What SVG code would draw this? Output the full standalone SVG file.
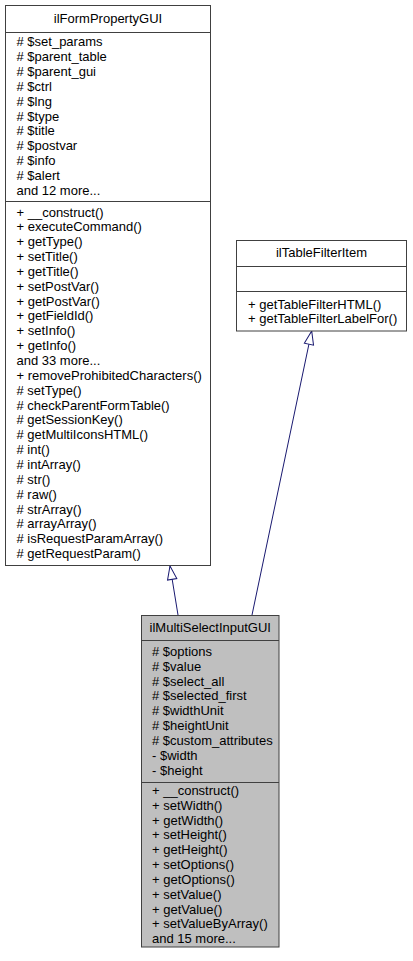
<svg xmlns="http://www.w3.org/2000/svg" width="413" height="961" viewBox="0 0 413 961">
<style>
text{font-family:"Liberation Sans",Arial,Helvetica,sans-serif;font-size:13px;fill:#000}
.c{text-anchor:middle}
.box{fill:#fff;stroke:#404040;stroke-width:1}
.focus{fill:#bfbfbf;stroke:#404040;stroke-width:1}
.sep{stroke:#404040;stroke-width:1}
.edge{fill:none;stroke:#191970;stroke-width:1}
</style>
<defs>
<marker id="inh" markerUnits="userSpaceOnUse" viewBox="0 0 15 11" markerWidth="15" markerHeight="11" refX="14" refY="5.5" orient="auto" overflow="visible">
<path d="M0.5,0.8 L14,5.5 L0.5,10.2 Z" fill="#fff" stroke="#191970" stroke-width="1"/>
</marker>
</defs>
<rect width="413" height="961" fill="#fff"/>
<g id="connectors">
<path class="edge" d="M178,615 L170,566" marker-end="url(#inh)"/>
<path class="edge" d="M252,615 L311.7,331" marker-end="url(#inh)"/>
</g>
<g id="ilFormPropertyGUI">
<rect class="box" x="5.5" y="5.5" width="205" height="560"/>
<line class="sep" x1="5.5" y1="32.5" x2="210.5" y2="32.5"/>
<line class="sep" x1="5.5" y1="201.5" x2="210.5" y2="201.5"/>
<text class="c" x="108" y="22.5">ilFormPropertyGUI</text>
<text x="16.5" y="46.3"># $set_params</text>
<text x="16.5" y="61.15"># $parent_table</text>
<text x="16.5" y="76"># $parent_gui</text>
<text x="16.5" y="90.85"># $ctrl</text>
<text x="16.5" y="105.7"># $lng</text>
<text x="16.5" y="120.55"># $type</text>
<text x="16.5" y="135.4"># $title</text>
<text x="16.5" y="150.25"># $postvar</text>
<text x="16.5" y="165.1"># $info</text>
<text x="16.5" y="179.95"># $alert</text>
<text x="16.5" y="194.8">and 12 more...</text>
<text x="16.5" y="216.5">+ __construct()</text>
<text x="16.5" y="231.35">+ executeCommand()</text>
<text x="16.5" y="246.2">+ getType()</text>
<text x="16.5" y="261.05">+ setTitle()</text>
<text x="16.5" y="275.9">+ getTitle()</text>
<text x="16.5" y="290.75">+ setPostVar()</text>
<text x="16.5" y="305.6">+ getPostVar()</text>
<text x="16.5" y="320.45">+ getFieldId()</text>
<text x="16.5" y="335.3">+ setInfo()</text>
<text x="16.5" y="350.15">+ getInfo()</text>
<text x="16.5" y="365">and 33 more...</text>
<text x="16.5" y="379.85">+ removeProhibitedCharacters()</text>
<text x="16.5" y="394.7"># setType()</text>
<text x="16.5" y="409.55"># checkParentFormTable()</text>
<text x="16.5" y="424.4"># getSessionKey()</text>
<text x="16.5" y="439.25"># getMultiIconsHTML()</text>
<text x="16.5" y="454.1"># int()</text>
<text x="16.5" y="468.95"># intArray()</text>
<text x="16.5" y="483.8"># str()</text>
<text x="16.5" y="498.65"># raw()</text>
<text x="16.5" y="513.5"># strArray()</text>
<text x="16.5" y="528.35"># arrayArray()</text>
<text x="16.5" y="543.2"># isRequestParamArray()</text>
<text x="16.5" y="558.05"># getRequestParam()</text>
</g>
<g id="ilTableFilterItem">
<rect class="box" x="236.5" y="240.5" width="170" height="90.5"/>
<line class="sep" x1="236.5" y1="266.5" x2="406.5" y2="266.5"/>
<line class="sep" x1="236.5" y1="291.5" x2="406.5" y2="291.5"/>
<text class="c" x="321.5" y="257">ilTableFilterItem</text>
<text x="248" y="308.5">+ getTableFilterHTML()</text>
<text x="248" y="323.35">+ getTableFilterLabelFor()</text>
</g>
<g id="ilMultiSelectInputGUI">
<rect class="focus" x="141.5" y="615.5" width="137.5" height="331.5"/>
<line class="sep" x1="141.5" y1="640.5" x2="279" y2="640.5"/>
<line class="sep" x1="141.5" y1="782.5" x2="279" y2="782.5"/>
<text class="c" x="210.25" y="631.5">ilMultiSelectInputGUI</text>
<text x="152" y="655.8"># $options</text>
<text x="152" y="670.65"># $value</text>
<text x="152" y="685.5"># $select_all</text>
<text x="152" y="700.35"># $selected_first</text>
<text x="152" y="715.2"># $widthUnit</text>
<text x="152" y="730.05"># $heightUnit</text>
<text x="152" y="744.9"># $custom_attributes</text>
<text x="152" y="759.75">- $width</text>
<text x="152" y="774.6">- $height</text>
<text x="152" y="794.8">+ __construct()</text>
<text x="152" y="809.65">+ setWidth()</text>
<text x="152" y="824.5">+ getWidth()</text>
<text x="152" y="839.35">+ setHeight()</text>
<text x="152" y="854.2">+ getHeight()</text>
<text x="152" y="869.05">+ setOptions()</text>
<text x="152" y="883.9">+ getOptions()</text>
<text x="152" y="898.75">+ setValue()</text>
<text x="152" y="913.6">+ getValue()</text>
<text x="152" y="928.45">+ setValueByArray()</text>
<text x="152" y="943.3">and 15 more...</text>
</g>
</svg>
